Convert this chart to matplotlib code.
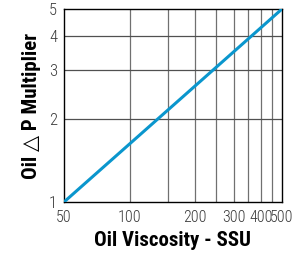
import matplotlib
matplotlib.use("Agg")
import matplotlib.pyplot as plt
from matplotlib.ticker import FixedLocator, NullLocator, NullFormatter

# data (straight line on log-log axes)
viscosity = [50, 500]
multiplier = [1, 5]

x_ticks = [50, 100, 200, 300, 400, 500]
x_grid = [100, 150, 200, 250, 300, 350, 400, 450]
y_ticks = [1, 2, 3, 4, 5]
y_grid = [2, 3, 4]

plt.rcParams['font.family'] = ['Roboto Condensed', 'DejaVu Sans']

fig = plt.figure(figsize=(3.08, 2.54), dpi=100)
ax = fig.add_axes([64 / 308, 52 / 254, 218 / 308, 193 / 254])

ax.set_xscale('log')
ax.set_yscale('log')
ax.set_xlim(50, 500)
ax.set_ylim(1, 5)

for gx in x_grid:
    ax.axvline(gx, color='#707070', lw=0.9, zorder=1)
for gy in y_grid:
    ax.axhline(gy, color='#505050', lw=0.9, zorder=1)

ax.plot(viscosity, multiplier, color='#0a96cd', lw=2.2, zorder=3,
        solid_capstyle='butt')

ax.xaxis.set_major_locator(FixedLocator(x_ticks))
ax.xaxis.set_minor_locator(NullLocator())
ax.xaxis.set_minor_formatter(NullFormatter())
ax.set_xticklabels([str(v) for v in x_ticks])
ax.yaxis.set_major_locator(FixedLocator(y_ticks))
ax.yaxis.set_minor_locator(NullLocator())
ax.yaxis.set_minor_formatter(NullFormatter())
ax.set_yticklabels([str(v) for v in y_ticks])

ax.tick_params(axis='x', length=0, pad=6, labelsize=11.5, labelcolor='#3a3a3a')
ax.tick_params(axis='y', length=0, pad=5, labelsize=12, labelcolor='#3a3a3a')
for lbl in ax.get_xticklabels() + ax.get_yticklabels():
    lbl.set_fontweight(300)
for s in ax.spines.values():
    s.set_color('black')
    s.set_linewidth(1.0)

ax.set_xlabel('Oil Viscosity - SSU', fontsize=15, fontweight='bold', labelpad=4)
ax.set_ylabel('Oil \u25B3 P Multiplier', fontsize=15, fontweight='bold', labelpad=6)

fig.savefig('out.png', dpi=100)
